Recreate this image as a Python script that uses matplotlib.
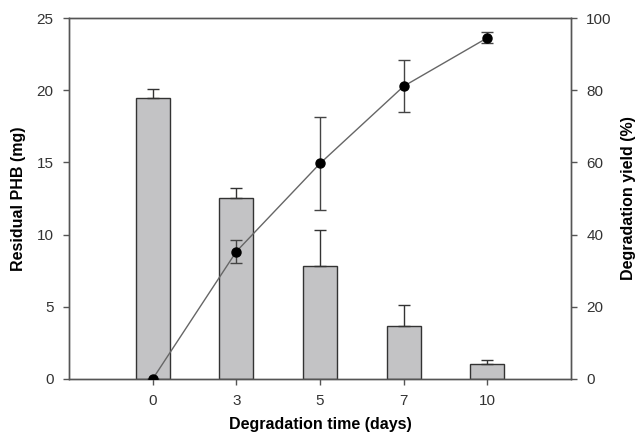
import matplotlib
matplotlib.use("Agg")
import matplotlib.pyplot as plt
import numpy as np

# data
days = ["0", "3", "5", "7", "10"]
residual_phb = [19.45, 12.55, 7.85, 3.65, 1.05]
residual_err = [0.65, 0.65, 2.5, 1.45, 0.3]
deg_yield = [0.0, 35.3, 59.7, 81.1, 94.5]
yield_err = [0.0, 3.2, 13.0, 7.2, 1.5]

plt.rcParams['font.family'] = ['Liberation Sans', 'DejaVu Sans']

def main():
    fig = plt.figure(figsize=(6.39, 4.34), dpi=100)
    ax = fig.add_axes([69 / 639, 1 - 379 / 434, 502 / 639, 361 / 434])
    x = np.arange(len(days))
    spine_c = "#555555"

    ax.bar(x, residual_phb, width=0.41, color="#c3c3c5", edgecolor="#333333",
           linewidth=1.0, zorder=2)
    ax.errorbar(x, residual_phb, yerr=[np.zeros(len(x)), residual_err], fmt="none",
                ecolor="#333333", elinewidth=1.0, capsize=4, capthick=1.0, zorder=2)

    ax.set_xlim(-1, 5)
    ax.set_ylim(0, 25)
    ax.set_xticks(x)
    ax.set_xticklabels(days)
    ax.set_yticks([0, 5, 10, 15, 20, 25])
    ax.set_xlabel("Degradation time (days)", fontsize=11.5, fontweight="bold", labelpad=6)
    ax.set_ylabel("Residual PHB (mg)", fontsize=11.5, fontweight="bold", labelpad=8)

    ax2 = ax.twinx()
    ax2.errorbar(x, deg_yield, yerr=yield_err, fmt="o-", color="#666666",
                 mfc="black", mec="black", ms=6.5, lw=1.0, ecolor="#444444",
                 elinewidth=1.0, capsize=4, capthick=1.0, zorder=3)
    ax2.set_ylim(0, 100)
    ax2.set_yticks([0, 20, 40, 60, 80, 100])
    ax2.set_ylabel("Degradation yield (%)", fontsize=11.5, fontweight="bold",
                   labelpad=7, rotation=90)

    for a in (ax, ax2):
        for s in a.spines.values():
            s.set_color(spine_c)
            s.set_linewidth(1.0)
        a.tick_params(direction="out", length=4, width=1.0, color=spine_c,
                      labelsize=11, labelcolor="#333333", pad=7)

    fig.savefig("out.png", dpi=100)
    plt.close(fig)


if __name__ == "__main__":
    main()
